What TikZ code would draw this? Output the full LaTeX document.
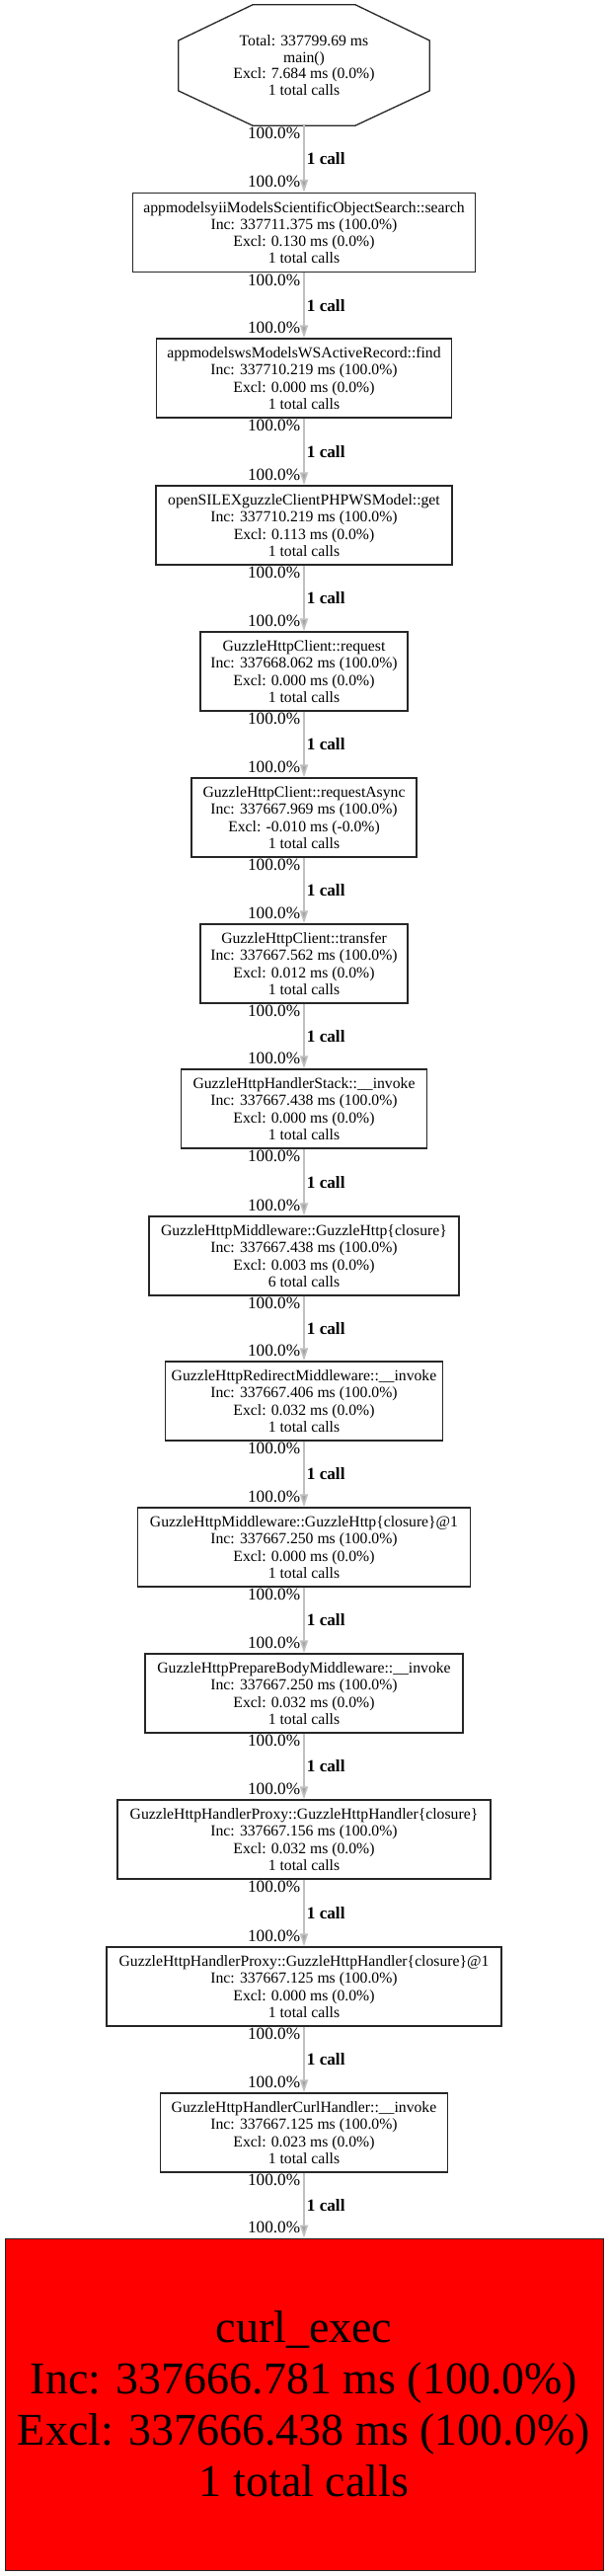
\documentclass[tikz,border=0pt]{standalone}
\usepackage{fontspec}
\setmainfont{Liberation Serif}
\usetikzlibrary{arrows.meta}
\definecolor{callgray}{RGB}{192,192,192}
\definecolor{hotred}{RGB}{255,0,0}

\begin{document}
\begin{tikzpicture}[x=1pt,y=-1pt]
	\tikzstyle{fn}=[draw=black!85,line width=1.3pt,align=center,minimum height=80pt,inner sep=2pt,font=\fontsize{15.7}{17.3}\selectfont]
	\tikzstyle{call}=[draw=callgray,line width=1.7pt,-{Triangle[length=13pt,width=8pt,fill=callgray!85!black]}]
	\tikzstyle{tlab}=[at start,anchor=north east,inner sep=1pt,xshift=-2pt,font=\fontsize{17.2}{19}\selectfont]
	\tikzstyle{hlab}=[at end,anchor=south east,inner sep=1pt,xshift=-2pt,yshift=3pt,font=\fontsize{17.2}{19}\selectfont]
	\tikzstyle{mlab}=[midway,anchor=west,inner sep=1pt,xshift=1pt,font=\fontsize{17.2}{19}\selectfont\bfseries]
	\useasboundingbox (0,0) rectangle (616,2609);
	% root
	\node[align=center,minimum width=254pt,minimum height=122pt,inner sep=0pt,font=\fontsize{15.7}{16.7}\selectfont](main) at (308,66) {Total: 337799.69 ms\\main()\\Excl: 7.684 ms (0.0\%)\\1 total calls};
	\draw[black!85,line width=1.3pt] ([xshift=-52pt]main.north) -- ([xshift=52pt]main.north) -- ([yshift=25pt]main.east) -- ([yshift=-26pt]main.east) -- ([xshift=52pt]main.south) -- ([xshift=-52pt]main.south) -- ([yshift=-26pt]main.west) -- ([yshift=25pt]main.west) -- cycle;
	% call chain
	\node[fn,minimum width=347pt](search) at (308,235.5) {appmodelsyiiModelsScientificObjectSearch::search\\Inc: 337711.375 ms (100.0\%)\\Excl: 0.130 ms (0.0\%)\\1 total calls};
	\node[fn,minimum width=299pt](find) at (308,383) {appmodelswsModelsWSActiveRecord::find\\Inc: 337710.219 ms (100.0\%)\\Excl: 0.000 ms (0.0\%)\\1 total calls};
	\node[fn,minimum width=300pt](get) at (308,532) {openSILEXguzzleClientPHPWSModel::get\\Inc: 337710.219 ms (100.0\%)\\Excl: 0.113 ms (0.0\%)\\1 total calls};
	\node[fn,minimum width=210pt](request) at (308,680) {GuzzleHttpClient::request\\Inc: 337668.062 ms (100.0\%)\\Excl: 0.000 ms (0.0\%)\\1 total calls};
	\node[fn,minimum width=228pt](async) at (308,828) {GuzzleHttpClient::requestAsync\\Inc: 337667.969 ms (100.0\%)\\Excl: -0.010 ms (-0.0\%)\\1 total calls};
	\node[fn,minimum width=210pt](transfer) at (308,976) {GuzzleHttpClient::transfer\\Inc: 337667.562 ms (100.0\%)\\Excl: 0.012 ms (0.0\%)\\1 total calls};
	\node[fn,minimum width=249pt](stack) at (308,1123) {GuzzleHttpHandlerStack::\_\_invoke\\Inc: 337667.438 ms (100.0\%)\\Excl: 0.000 ms (0.0\%)\\1 total calls};
	\node[fn,minimum width=314pt](mwclos) at (308,1272) {GuzzleHttpMiddleware::GuzzleHttp\{closure\}\\Inc: 337667.438 ms (100.0\%)\\Excl: 0.003 ms (0.0\%)\\6 total calls};
	\node[fn,minimum width=281pt](redirect) at (308,1419) {GuzzleHttpRedirectMiddleware::\_\_invoke\\Inc: 337667.406 ms (100.0\%)\\Excl: 0.032 ms (0.0\%)\\1 total calls};
	\node[fn,minimum width=337pt](mwclosa) at (308,1567) {GuzzleHttpMiddleware::GuzzleHttp\{closure\}@1\\Inc: 337667.250 ms (100.0\%)\\Excl: 0.000 ms (0.0\%)\\1 total calls};
	\node[fn,minimum width=322pt](prepbody) at (308,1715) {GuzzleHttpPrepareBodyMiddleware::\_\_invoke\\Inc: 337667.250 ms (100.0\%)\\Excl: 0.032 ms (0.0\%)\\1 total calls};
	\node[fn,minimum width=378pt](proxy) at (308,1863) {GuzzleHttpHandlerProxy::GuzzleHttpHandler\{closure\}\\Inc: 337667.156 ms (100.0\%)\\Excl: 0.032 ms (0.0\%)\\1 total calls};
	\node[fn,minimum width=400pt](proxya) at (308,2012) {GuzzleHttpHandlerProxy::GuzzleHttpHandler\{closure\}@1\\Inc: 337667.125 ms (100.0\%)\\Excl: 0.000 ms (0.0\%)\\1 total calls};
	\node[fn,minimum width=291pt](curlh) at (308,2160) {GuzzleHttpHandlerCurlHandler::\_\_invoke\\Inc: 337667.125 ms (100.0\%)\\Excl: 0.023 ms (0.0\%)\\1 total calls};
	% hot spot
	\node[fn,fill=hotred,line width=1pt,minimum width=606pt,minimum height=336pt,font=\fontsize{46}{52}\selectfont](curlexec) at (308,2435) {curl\_exec\\Inc: 337666.781 ms (100.0\%)\\Excl: 337666.438 ms (100.0\%)\\1 total calls};
	% calls
	\draw[call] (main) -- (search) node[tlab] {100.0\%} node[mlab] {1 call} node[hlab] {100.0\%};
	\draw[call] (search) -- (find) node[tlab] {100.0\%} node[mlab] {1 call} node[hlab] {100.0\%};
	\draw[call] (find) -- (get) node[tlab] {100.0\%} node[mlab] {1 call} node[hlab] {100.0\%};
	\draw[call] (get) -- (request) node[tlab] {100.0\%} node[mlab] {1 call} node[hlab] {100.0\%};
	\draw[call] (request) -- (async) node[tlab] {100.0\%} node[mlab] {1 call} node[hlab] {100.0\%};
	\draw[call] (async) -- (transfer) node[tlab] {100.0\%} node[mlab] {1 call} node[hlab] {100.0\%};
	\draw[call] (transfer) -- (stack) node[tlab] {100.0\%} node[mlab] {1 call} node[hlab] {100.0\%};
	\draw[call] (stack) -- (mwclos) node[tlab] {100.0\%} node[mlab] {1 call} node[hlab] {100.0\%};
	\draw[call] (mwclos) -- (redirect) node[tlab] {100.0\%} node[mlab] {1 call} node[hlab] {100.0\%};
	\draw[call] (redirect) -- (mwclosa) node[tlab] {100.0\%} node[mlab] {1 call} node[hlab] {100.0\%};
	\draw[call] (mwclosa) -- (prepbody) node[tlab] {100.0\%} node[mlab] {1 call} node[hlab] {100.0\%};
	\draw[call] (prepbody) -- (proxy) node[tlab] {100.0\%} node[mlab] {1 call} node[hlab] {100.0\%};
	\draw[call] (proxy) -- (proxya) node[tlab] {100.0\%} node[mlab] {1 call} node[hlab] {100.0\%};
	\draw[call] (proxya) -- (curlh) node[tlab] {100.0\%} node[mlab] {1 call} node[hlab] {100.0\%};
	\draw[call] (curlh) -- (curlexec) node[tlab] {100.0\%} node[mlab] {1 call} node[hlab] {100.0\%};
\end{tikzpicture}
\end{document}
